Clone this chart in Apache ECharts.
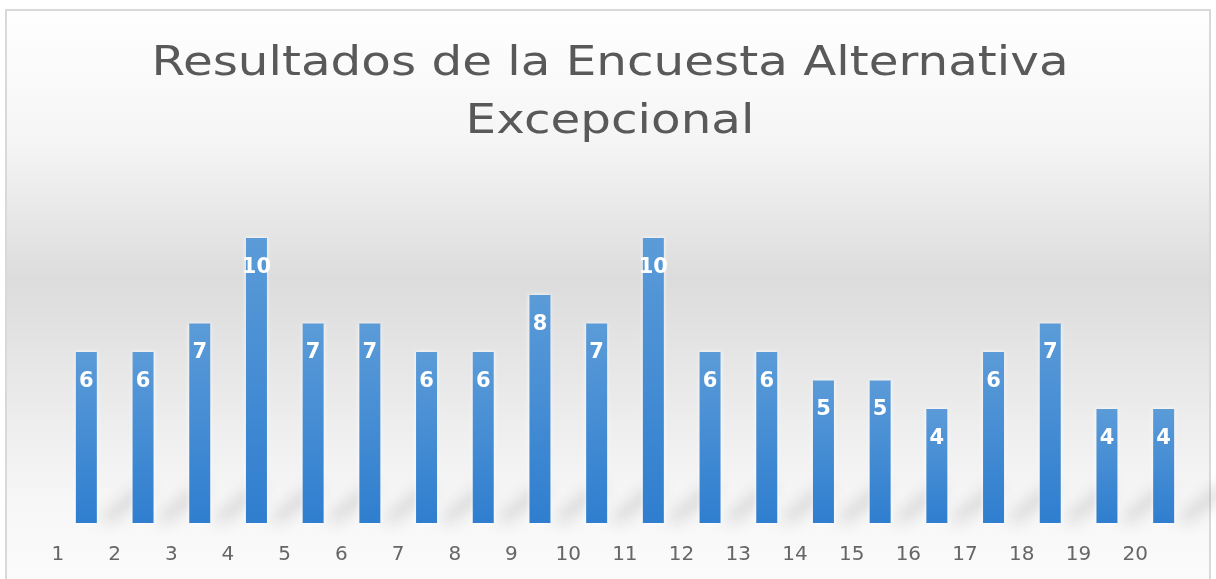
<!DOCTYPE html>
<html>
<head>
<meta charset="utf-8">
<script src="https://cdn.jsdelivr.net/npm/echarts@6/dist/echarts.min.js"></script>
<style>
html,body{margin:0;padding:0;background:#fff;}
#chart{width:1216px;height:579px;}
</style>
</head>
<body>
<div id="chart"></div>
<script>
const titleText = 'Resultados de la Encuesta Alternativa\nExcepcional';
const categories = ['1','2','3','4','5','6','7','8','9','10','11','12','13','14','15','16','17','18','19','20'];
const values = [6,6,7,10,7,7,6,6,8,7,10,6,6,5,5,4,6,7,4,4];

const chart = echarts.init(document.getElementById('chart'), null, {renderer:'canvas'});
chart.setOption({
  backgroundColor: '#ffffff',
  animation: false,
  graphic: [{
    type: 'rect',
    z: -10,
    silent: true,
    shape: {x: 6, y: 10, width: 1204, height: 600},
    style: {
      fill: new echarts.graphic.LinearGradient(0, 0, 0, 1, [
        {offset: 0, color: '#ffffff'},
        {offset: 0.22, color: '#f5f5f5'},
        {offset: 0.45, color: '#dcdcdc'},
        {offset: 0.82, color: '#f7f7f7'},
        {offset: 1, color: '#fcfcfc'}
      ]),
      stroke: '#d9d9d9',
      lineWidth: 2
    }
  }, {
    type: 'text',
    silent: true,
    z: 10,
    x: 610,
    y: 35,
    scaleX: 1.18,
    scaleY: 1,
    style: {
      text: titleText,
      align: 'center',
      verticalAlign: 'top',
      fontFamily: 'DejaVu Sans',
      fontSize: 41,
      lineHeight: 58,
      fill: '#595959'
    }
  }],
  grid: {left: 58, right: 24, top: 181, bottom: 56},
  xAxis: {
    type: 'category',
    data: categories,
    axisLine: {show: false},
    axisTick: {show: false},
    axisLabel: {
      margin: 22,
      formatter: v => '{a|' + v + '}',
      rich: {
        a: {
          fontFamily: 'DejaVu Sans',
          fontSize: 20,
          color: '#666666',
          padding: [0, 57, 0, 0]
        }
      }
    }
  },
  yAxis: {
    type: 'value',
    min: 0,
    max: 12,
    show: false,
    splitLine: {show: false}
  },
  series: [{
    type: 'custom',
    silent: true,
    clip: false,
    z: 1,
    data: values,
    renderItem: function (params, api) {
      const base = api.coord([api.value(0), 0]);
      const x = base[0] + 12;
      const y = base[1] + 1000;
      return {
        type: 'polygon',
        shape: {points: [[x, y - 4], [x + 12, y - 1], [x + 56, y - 34], [x + 44, y - 38]]},
        style: {
          fill: 'rgba(0,0,0,1)',
          shadowBlur: 16,
          shadowOffsetY: -1000,
          shadowColor: 'rgba(120,120,120,0.32)'
        }
      };
    },
    encode: {x: 0, y: 1}
  }, {
    type: 'bar',
    data: values,
    barWidth: 21,
    z: 2,
    itemStyle: {
      color: new echarts.graphic.LinearGradient(0, 0, 0, 1, [
        {offset: 0, color: '#5b9bd8'},
        {offset: 1, color: '#2f7ecf'}
      ]),
      shadowColor: 'rgba(255,255,255,0.9)',
      shadowBlur: 4
    },
    label: {
      show: true,
      position: 'insideTop',
      distance: 19,
      color: '#ffffff',
      fontFamily: 'DejaVu Sans',
      fontWeight: 'bold',
      fontSize: 21
    }
  }]
});
</script>
</body>
</html>
